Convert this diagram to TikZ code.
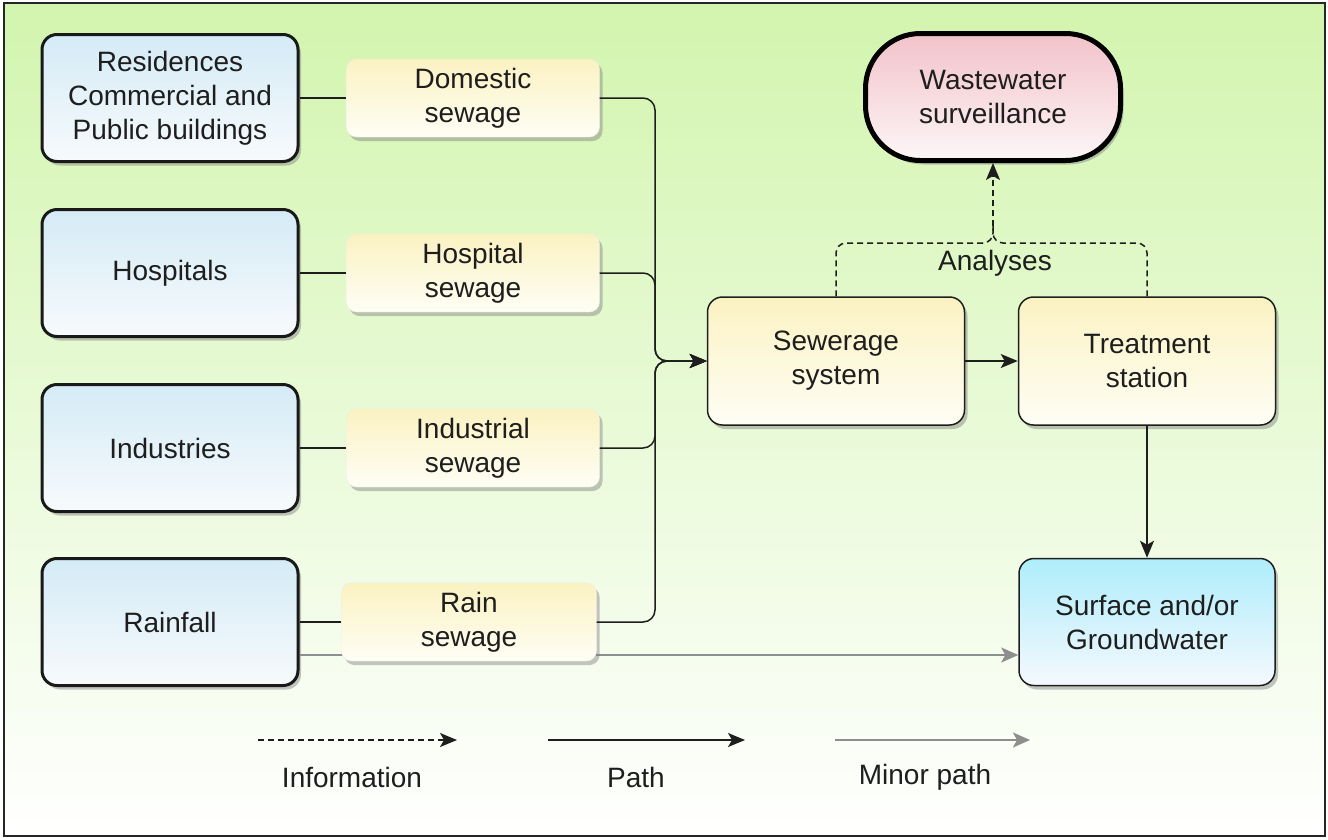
\documentclass[tikz,border=0pt]{standalone}
\usepackage{fontspec}
\setmainfont{Liberation Sans}
\usetikzlibrary{positioning,arrows.meta,shadows}
\definecolor{bggreen}{HTML}{D2F5AE}
\definecolor{srcblue}{HTML}{D4EBF6}
\definecolor{srcwhite}{HTML}{F7FAFC}
\definecolor{sewyellow}{HTML}{FBF2C2}
\definecolor{sewwhite}{HTML}{FEFEF5}
\definecolor{survpink}{HTML}{F2C2CA}
\definecolor{survwhite}{HTML}{FDF6F7}
\definecolor{gwblue}{HTML}{AEEDFB}
\definecolor{gwwhite}{HTML}{F5F8FD}
\definecolor{inkgrey}{HTML}{1E1E1E}
\definecolor{minorgrey}{HTML}{8E8E8E}
\tikzset{
  basebox/.style={align=center, text=inkgrey, font=\fontsize{28}{34}\selectfont,
    drop shadow={shadow xshift=3pt, shadow yshift=-4pt, fill=black!50, opacity=0.45}},
  srcbox/.style={basebox, rounded corners=15pt, minimum width=256pt, minimum height=127pt,
    line width=3pt, draw=black!90, top color=srcblue, bottom color=srcwhite},
  sewbox/.style={basebox, rounded corners=10pt, minimum width=253pt, minimum height=78pt,
    draw=black!8, top color=sewyellow, bottom color=sewwhite},
  plantbox/.style={basebox, rounded corners=15pt, minimum width=257pt, minimum height=128pt,
    line width=1.5pt, draw=inkgrey, top color=sewyellow, bottom color=sewwhite},
  legtext/.style={text=inkgrey, font=\fontsize{28}{34}\selectfont},
  pathline/.style={line width=1.5pt, draw=inkgrey, rounded corners=12pt},
  patharrow/.style={pathline, -{Stealth[length=17pt, width=14pt, inset=4pt]}},
  infoline/.style={line width=1.5pt, draw=inkgrey, dash pattern=on 6pt off 4pt, rounded corners=10pt},
  infoarrow/.style={infoline, -{Stealth[length=17pt, width=14pt, inset=4pt]}},
  minorarrow/.style={line width=2pt, draw=minorgrey, -{Stealth[length=17pt, width=15pt, inset=4pt]}}
}
\begin{document}
\begin{tikzpicture}[x=1pt, y=-1pt]
\useasboundingbox (0,0) rectangle (1328,839);
% background
\fill[top color=bggreen, bottom color=white] (4,3) rectangle (1325,836);
\draw[line width=1.5pt, draw=black!85] (4,3) rectangle (1325,836);

% sources
\node[srcbox] (res) at (170,98) {Residences\\Commercial and\\Public buildings};
\node[srcbox] (hosps) at (170,273) {Hospitals};
\node[srcbox] (indus) at (170,448) {Industries};
\node[srcbox] (rainfall) at (170,622) {Rainfall};

% plants and receiving water
\node[plantbox] (sewer) at (836,361) {Sewerage\\system};
\node[plantbox] (treat) at (1147,361) {Treatment\\station};
\node[srcbox, line width=1.5pt, draw=inkgrey, top color=gwblue, bottom color=gwwhite] (surf) at (1147,622) {Surface and/or\\Groundwater};
\node[basebox, rounded corners=55pt, minimum width=255pt, minimum height=127pt,
  line width=5pt, draw=black, top color=survpink, bottom color=survwhite] (surv) at (993,97) {Wastewater\\surveillance};

% minor path, behind rain sewage
\draw[minorarrow] ([yshift=-33pt]rainfall.east) -- ([yshift=-33pt]surf.west);

% sewage
\node[sewbox] (dom) at (473,98) {Domestic\\sewage};
\node[sewbox] (hsew) at (473,273) {Hospital\\sewage};
\node[sewbox] (isew) at (473,448) {Industrial\\sewage};
\node[sewbox, minimum width=255pt] (rsew) at (469,622) {Rain\\sewage};

\draw[pathline] (res.east) -- (dom.west);
\draw[pathline] (hosps.east) -- (hsew.west);
\draw[pathline] (indus.east) -- (isew.west);
\draw[pathline] (rainfall.east) -- (rsew.west);

\coordinate (merge) at (655,361);
\foreach \s in {dom,hsew,isew,rsew}
  \draw[patharrow] (\s.east) -- (\s.east -| merge) |- (sewer.west);

\draw[patharrow] (sewer.east) -- (treat.west);
\draw[patharrow] (treat.south) -- (surf.north);

% analyses
\coordinate (ana) at (993,243);
\coordinate (anatop) at (993,226);
\draw[infoline] (sewer.north) |- (ana) -- (anatop);
\draw[infoline] (treat.north) |- (ana) -- (anatop);
\draw[infoarrow] (anatop) -- (surv.south);
\node[legtext] (analab) at (995,263) {Analyses};

% legend
\coordinate (infoA) at (258,740);
\coordinate (infoB) at (457,740);
\coordinate (pathA) at (548,740);
\coordinate (pathB) at (745,740);
\coordinate (minorA) at (835,740);
\coordinate (minorB) at (1030,740);
\draw[infoarrow] (infoA) -- (infoB);
\draw[patharrow] (pathA) -- (pathB);
\draw[minorarrow] (minorA) -- (minorB);
\node[legtext] (infolab) at (352,777) {Information};
\node[legtext] (pathlab) at (636,777) {Path};
\node[legtext] (minorlab) at (925,777) {Minor path};
\end{tikzpicture}
\end{document}
